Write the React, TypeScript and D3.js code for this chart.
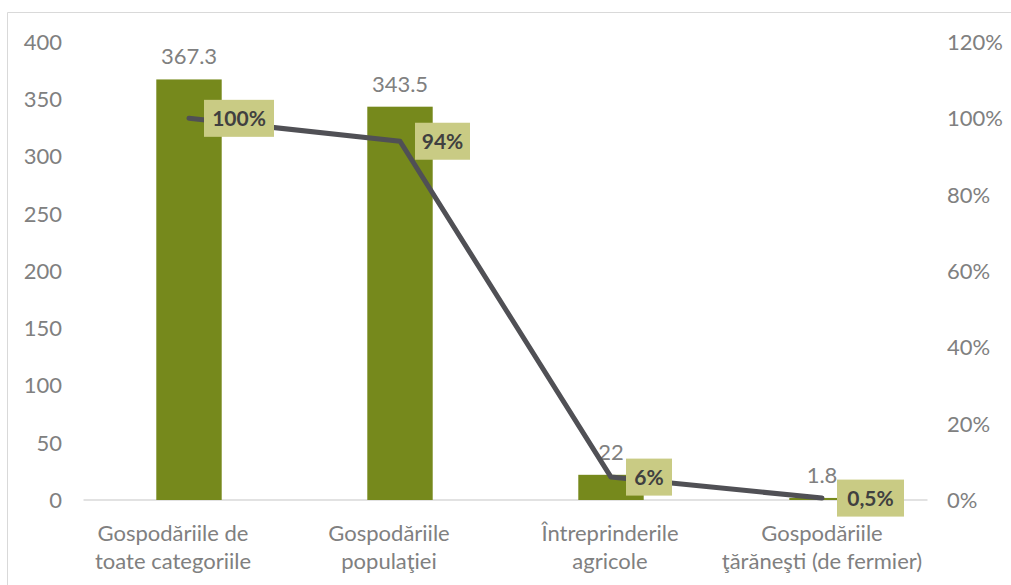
import React from "react";
import * as d3 from "d3";

const categories: string[][] = [
  ["Gospodăriile de", "toate categoriile"],
  ["Gospodăriile", "populaţiei"],
  ["Întreprinderile", "agricole"],
  ["Gospodăriile", "ţărăneşti (de fermier)"],
];
const values = [367.3, 343.5, 22, 1.8];
const valueLabels = ["367.3", "343.5", "22", "1.8"];
const shares = [1.0, 0.94, 0.06, 0.005];
const shareLabels = ["100%", "94%", "6%", "0,5%"];
const leftTicks = [0, 50, 100, 150, 200, 250, 300, 350, 400];
const rightTicks = [0, 0.2, 0.4, 0.6, 0.8, 1.0, 1.2];

const W = 1011;
const H = 585;
const FONT = "Lato, 'Open Sans', sans-serif";
const TXT = "#808080";

export default function App() {
  const x0 = 83.5, x1 = 927.5, yTop = 42, yBase = 500;
  const x = d3.scaleBand<number>().domain(d3.range(categories.length)).range([x0, x1]).paddingInner(0.69).paddingOuter(0.345);
  const cx = (i: number) => (x(i) as number) + x.bandwidth() / 2;
  const yL = d3.scaleLinear().domain([0, 400]).range([yBase, yTop]);
  const yR = d3.scaleLinear().domain([0, 1.2]).range([yBase, yTop]);
  const line = d3.line<number>().x((_, i) => cx(i)).y((d) => yR(d));
  const boxW = [70, 55, 46, 67];
  const labelShift = [-16, -11, -1, 0];

  return (
    <svg width={W} height={H} style={{ position: "absolute", left: 0, top: 0 }}>
      <rect x={0} y={0} width={W} height={H} fill="#fff" />
      <line x1={7.5} y1={12.5} x2={W} y2={12.5} stroke="#d9d9d9" />
      <line x1={7.5} y1={12.5} x2={7.5} y2={H} stroke="#d9d9d9" />
      <line x1={x0} x2={x1} y1={yBase} y2={yBase} stroke="#d9d9d9" strokeWidth={1.5} />
      {leftTicks.map((t) => (
        <text key={t} x={62} y={yL(t)} dy="0.36em" textAnchor="end" fontSize={22} fill={TXT} fontFamily={FONT}>
          {t}
        </text>
      ))}
      {rightTicks.map((t) => (
        <text key={t} x={947} y={yR(t)} dy="0.36em" textAnchor="start" fontSize={22} fill={TXT} fontFamily={FONT}>
          {Math.round(t * 100) + "%"}
        </text>
      ))}
      {values.map((v, i) => (
        <rect key={i} x={x(i)} y={yL(v)} width={x.bandwidth()} height={yBase - yL(v)} fill="#76891c" />
      ))}
      {values.map((v, i) => (
        <text key={i} x={cx(i)} y={yL(v) - 15} textAnchor="middle" fontSize={22} fill={TXT} fontFamily={FONT}>
          {valueLabels[i]}
        </text>
      ))}
      {categories.map((c, i) => (
        <text key={i} x={cx(i) + labelShift[i]} y={541} textAnchor="middle" fontSize={22} fill={TXT} fontFamily={FONT}>
          <tspan x={cx(i) + labelShift[i]} dy={0}>{c[0]}</tspan>
          <tspan x={cx(i) + labelShift[i]} dy={28}>{c[1]}</tspan>
        </text>
      ))}
      <path d={line(shares) as string} fill="none" stroke="#505055" strokeWidth={5} strokeLinecap="round" strokeLinejoin="round" />
      {shares.map((s, i) => (
        <g key={i}>
          <rect x={cx(i) + 15} y={yR(s) - 18.5} width={boxW[i]} height={37} fill="#c9cb84" />
          <text x={cx(i) + 15 + boxW[i] / 2} y={yR(s)} dy="0.36em" textAnchor="middle" fontSize={21} fontWeight="bold" fill="#404040" fontFamily={FONT}>
            {shareLabels[i]}
          </text>
        </g>
      ))}
    </svg>
  );
}
